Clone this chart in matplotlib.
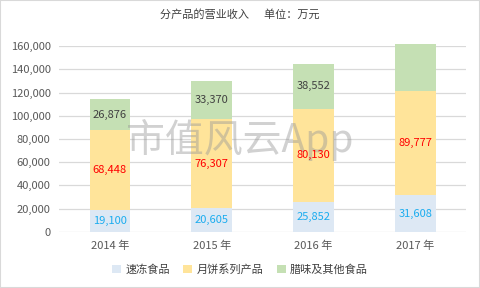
import numpy as np
import matplotlib
matplotlib.use('Agg')
import matplotlib.pyplot as plt
from matplotlib.ticker import FuncFormatter

plt.rcParams['font.family'] = ['Noto Sans CJK SC', 'DejaVu Sans']

years = ['2014 年', '2015 年', '2016 年', '2017 年']
frozen = [19100, 20605, 25852, 31608]
mooncake = [68448, 76307, 80130, 89777]
cured = [26876, 33370, 38552, 40300]
series_names = ['速冻食品', '月饼系列产品', '腊味及其他食品']
cured_shown = [True, True, True, False]

colors = ['#DDE8F4', '#FFE49A', '#C5E0B4']
label_colors = ['#1AACEF', '#FF0000', '#404040']

fig = plt.figure(figsize=(4.8, 2.88), dpi=100)
ax = fig.add_axes([0.123, 0.195, 0.848, 0.645])

x = np.arange(len(years))
w = 0.4
b1 = ax.bar(x, frozen, w, color=colors[0], label=series_names[0], zorder=2, clip_on=False)
b2 = ax.bar(x, mooncake, w, bottom=frozen, color=colors[1], label=series_names[1], zorder=2, clip_on=False)
bottom3 = np.array(frozen) + np.array(mooncake)
b3 = ax.bar(x, cured, w, bottom=bottom3, color=colors[2], label=series_names[2], zorder=2, clip_on=False)

for i in range(len(years)):
    ax.text(x[i], frozen[i] / 2, f'{frozen[i]:,}', ha='center', va='center',
            color=label_colors[0], fontsize=8, zorder=4)
    ax.text(x[i], frozen[i] + mooncake[i] / 2, f'{mooncake[i]:,}', ha='center', va='center',
            color=label_colors[1], fontsize=8, zorder=4)
    if cured_shown[i]:
        ax.text(x[i], bottom3[i] + cured[i] / 2, f'{cured[i]:,}', ha='center', va='center',
                color=label_colors[2], fontsize=8, zorder=4)

ax.set_xlim(-0.5, 3.5)
ax.set_ylim(0, 160000)
ax.set_yticks(np.arange(0, 160001, 20000))
ax.yaxis.set_major_formatter(FuncFormatter(lambda v, p: f'{int(v):,}'))
ax.set_xticks(x)
ax.set_xticklabels(years)
ax.grid(axis='y', color='#D9D9D9', linewidth=0.9, zorder=0)
for s in ax.spines.values():
    s.set_visible(False)
ax.tick_params(length=0, labelsize=8, colors='#595959', pad=6)

# watermark
ax.text(1.28, 79000, '市值风云App', ha='center', va='center', fontsize=28,
        color='#999999', alpha=0.45, zorder=3)

fig.text(0.5, 0.95, '分产品的营业收入      单位：万元', ha='center', va='center',
         fontsize=8, color='#404040')

fig.legend(handles=[b1, b2, b3], labels=series_names, loc='center', bbox_to_anchor=(0.5, 0.065),
           ncol=3, frameon=False, fontsize=8, handlelength=0.8, handleheight=0.8,
           columnspacing=1.2, handletextpad=0.4, labelcolor='#404040')

fig.patches.append(plt.Rectangle((0, 0), 1, 1, transform=fig.transFigure, fill=False,
                                 edgecolor='#D9D9D9', linewidth=1.5))

fig.savefig('out.png', dpi=100)
